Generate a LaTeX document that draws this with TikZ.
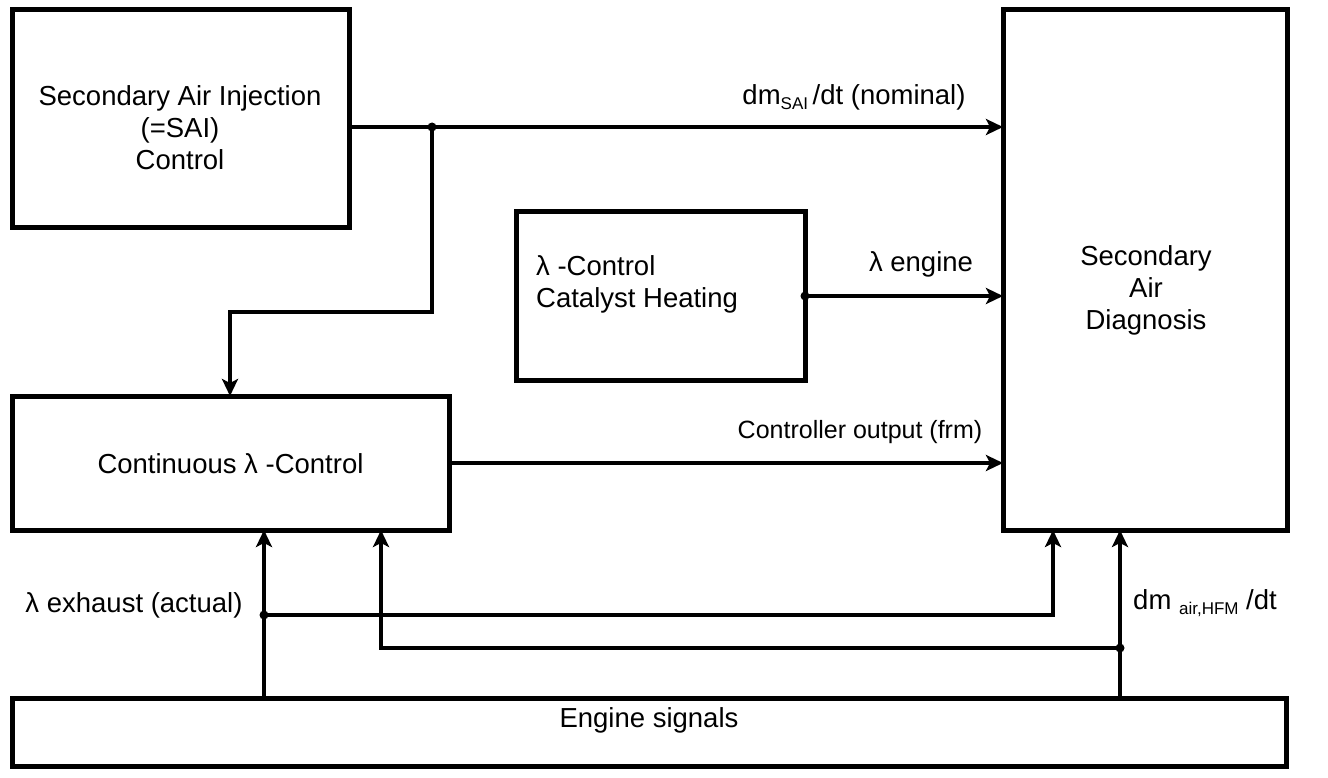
\documentclass[tikz,border=0pt]{standalone}
\usepackage{fontspec}
\setmainfont{Liberation Sans}
\usetikzlibrary{arrows.meta,calc}
\begin{document}
\begin{tikzpicture}[x=1pt,y=-1pt,
  box/.style={draw,line width=5pt,inner sep=0pt,outer sep=0pt},
  txt/.style={inner sep=0pt,font=\fontsize{27.5}{32}\selectfont,align=center},
  small/.style={inner sep=0pt,font=\fontsize{25}{30}\selectfont,align=center},
  conn/.style={line width=4.5pt,-{Stealth[length=17pt,width=16pt,inset=4pt]}},
  junc/.style={circle,fill,inner sep=0pt,minimum size=9pt}]
\useasboundingbox (0,0) rectangle (1328,778);
% boxes
\node[box,minimum width=337pt,minimum height=218pt] (sai) at (180.5,119) {};
\node[box,minimum width=289pt,minimum height=168pt] (cat) at (660.5,296) {};
\node[box,minimum width=284pt,minimum height=520pt] (diag) at (1145,270) {};
\node[box,minimum width=437pt,minimum height=134pt] (cont) at (230.5,463) {};
\node[box,minimum width=1274pt,minimum height=68pt] (eng) at (649,732) {};
% box texts
\node[txt] (saitxt) at (180,128) {Secondary Air Injection\\(=SAI)\\Control};
\node[txt,anchor=west,align=left] (cattxt) at (536,284) {λ -Control\\Catalyst Heating};
\node[txt] (diagtxt) at (1146,290) {Secondary\\Air\\Diagnosis};
\node[txt] (conttxt) at (230.5,464) {Continuous λ -Control};
\node[txt] (engtxt) at (649,720) {Engine signals};
% junction coordinates
\coordinate (j1) at (432,127);
\coordinate (b1) at (432,312);
\coordinate (b2) at (230,312);
\coordinate (e1) at (264,615);
\coordinate (e1r) at (1053,615);
\coordinate (e2) at (1120,648);
\coordinate (e2l) at (381,648);
% connectors
\draw[conn] (sai.east |- j1) -- (diag.west |- j1);
\draw[conn] (j1) -- (b1) -- (b2) -- (cont.north -| b2);
\draw[conn] (cat.east) -- (diag.west |- cat.east);
\draw[conn] (cont.east) -- (diag.west |- cont.east);
\draw[conn] (eng.north -| e1) -- (cont.south -| e1);
\draw[conn] (e1) -- (e1r) -- (diag.south -| e1r);
\draw[conn] (eng.north -| e2) -- (diag.south -| e2);
\draw[conn] (e2) -- (e2l) -- (cont.south -| e2l);
\node[junc] (d1) at (j1) {};
\node[junc] (d2) at (cat.east) {};
\node[junc] (d3) at (e1) {};
\node[junc] (d4) at (e2) {};
% labels
\node[txt] (l1) at (854,97) {dm\raisebox{-0.35ex}{\fontsize{17}{17}\selectfont SAI}\,/dt (nominal)};
\node[txt] (l2) at (921,264) {λ engine};
\node[small] (l3) at (860,432) {Controller output (frm)};
\node[txt] (l4) at (134,605) {λ exhaust (actual)};
\node[txt] (l5) at (1205,603) {dm \raisebox{-0.35ex}{\fontsize{17}{17}\selectfont air,HFM} /dt};
\end{tikzpicture}
\end{document}
